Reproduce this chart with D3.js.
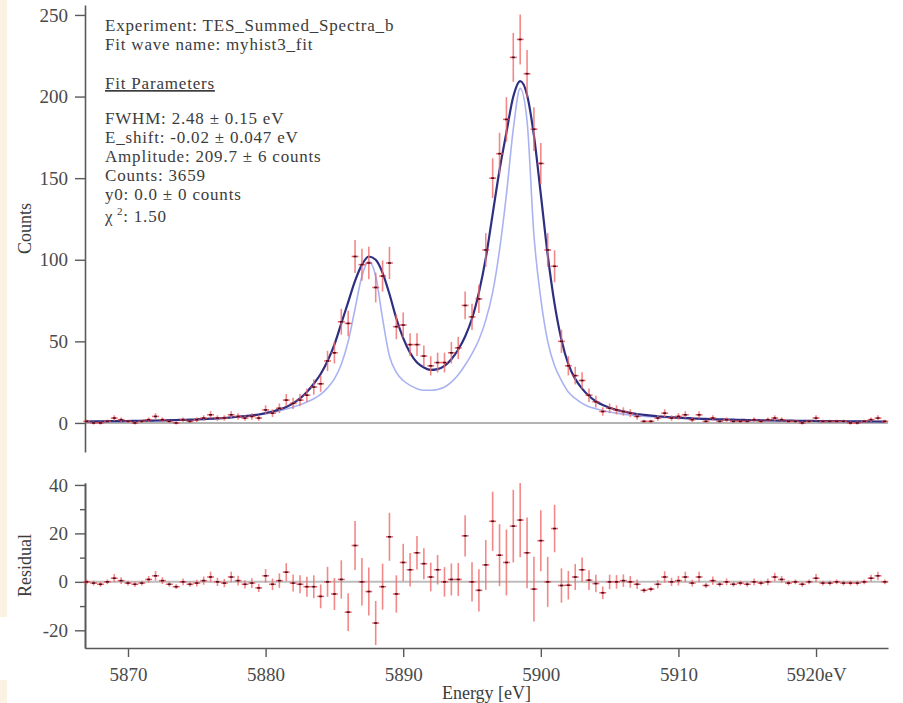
<!DOCTYPE html>
<html>
<head>
<meta charset="utf-8">
<script src="https://cdn.jsdelivr.net/npm/d3@7"></script>
<style>
  body { margin: 0; background: #fff; }
  svg { display: block; }
  text { font-family: "Liberation Serif", "Times New Roman", Times, serif; }
</style>
</head>
<body>
<svg id="chart" width="903" height="703"></svg>
<script>
// Bin centres of the summed spectrum (eV)
const energy = [
  5867, 5867.5, 5868, 5868.5, 5869, 5869.5, 5870, 5870.5, 5871, 5871.5,
  5872, 5872.5, 5873, 5873.5, 5874, 5874.5, 5875, 5875.5, 5876, 5876.5,
  5877, 5877.5, 5878, 5878.5, 5879, 5879.5, 5880, 5880.5, 5881, 5881.5,
  5882, 5882.5, 5883, 5883.5, 5884, 5884.5, 5885, 5885.5, 5886, 5886.5,
  5887, 5887.5, 5888, 5888.5, 5889, 5889.5, 5890, 5890.5, 5891, 5891.5,
  5892, 5892.5, 5893, 5893.5, 5894, 5894.5, 5895, 5895.5, 5896, 5896.5,
  5897, 5897.5, 5898, 5898.5, 5899, 5899.5, 5900, 5900.5, 5901, 5901.5,
  5902, 5902.5, 5903, 5903.5, 5904, 5904.5, 5905, 5905.5, 5906, 5906.5,
  5907, 5907.5, 5908, 5908.5, 5909, 5909.5, 5910, 5910.5, 5911, 5911.5,
  5912, 5912.5, 5913, 5913.5, 5914, 5914.5, 5915, 5915.5, 5916, 5916.5,
  5917, 5917.5, 5918, 5918.5, 5919, 5919.5, 5920, 5920.5, 5921, 5921.5,
  5922, 5922.5, 5923, 5923.5, 5924, 5924.5, 5925
];

// Measured counts per bin
const counts = [
  1, 0, 0, 1, 3, 2, 1, 0, 1, 2,
  4, 2, 1, 0, 2, 1, 2, 3, 5, 3,
  3, 5, 4, 3, 4, 3, 8, 6, 9, 14,
  12, 14, 17, 22, 24, 38, 43, 62, 61, 102,
  97, 98, 83, 90, 98, 59, 60, 48, 48, 41,
  35, 37, 37, 43, 46, 72, 65, 76, 106, 150,
  165, 186, 224, 235, 214, 180, 159, 106, 96, 50,
  35, 29, 26, 17, 13, 7, 9, 8, 7, 6,
  4, 1, 1, 3, 6, 3, 4, 5, 2, 5,
  1, 3, 1, 2, 1, 1, 1, 2, 1, 2,
  3, 2, 1, 1, 0, 1, 3, 1, 1, 1,
  1, 0, 0, 1, 2, 3, 1
];

// Statistical uncertainty per bin (counts)
const countErr = [
  1, 1, 1, 1, 1.7, 1.4, 1, 1, 1, 1.4,
  2, 1.4, 1, 1, 1.4, 1, 1.4, 1.7, 2.2, 1.7,
  1.7, 2.2, 2, 1.7, 2, 1.7, 2.8, 2.4, 3, 3.7,
  3.5, 3.7, 4.1, 4.7, 4.9, 6.2, 6.6, 7.9, 7.8, 10.1,
  9.8, 9.9, 9.1, 9.5, 9.9, 7.7, 7.7, 6.9, 6.9, 6.4,
  5.9, 6.1, 6.1, 6.6, 6.8, 8.5, 8.1, 8.7, 10.3, 12.2,
  12.8, 13.6, 15, 15.3, 14.6, 13.4, 12.6, 10.3, 9.8, 7.1,
  5.9, 5.4, 5.1, 4.1, 3.6, 2.6, 3, 2.8, 2.6, 2.4,
  2, 1, 1, 1.7, 2.4, 1.7, 2, 2.2, 1.4, 2.2,
  1, 1.7, 1, 1.4, 1, 1, 1, 1.4, 1, 1.4,
  1.7, 1.4, 1, 1, 1, 1, 1.7, 1, 1, 1,
  1, 1, 1, 1, 1.4, 1.7, 1
];

// Fitted model (instrument-broadened)
const fitCurve = [
  0.9, 0.95, 1.0, 1.05, 1.1, 1.15, 1.2, 1.3, 1.35, 1.45,
  1.5, 1.6, 1.7, 1.8, 1.9, 2.0, 2.2, 2.4, 2.6, 2.8,
  3.1, 3.4, 3.8, 4.2, 4.6, 5.2, 6.0, 7.0, 8.2, 9.8,
  12, 15, 19, 24, 30, 38, 48, 61, 74, 87,
  97, 102, 100, 92, 79, 64, 52, 43, 37, 34,
  32.5, 33, 35, 39, 45, 53, 64, 80, 101, 128,
  155, 178, 200, 209.5, 201, 176, 140, 103, 73, 51,
  36, 27, 21, 16.5, 13.3, 11, 9.3, 8.0, 7.0, 6.2,
  5.5, 5.0, 4.5, 4.1, 3.8, 3.5, 3.2, 3.0, 2.8, 2.6,
  2.5, 2.3, 2.2, 2.1, 2.0, 1.9, 1.8, 1.7, 1.65, 1.6,
  1.5, 1.45, 1.4, 1.35, 1.3, 1.25, 1.2, 1.15, 1.1, 1.1,
  1.05, 1.0, 1.0, 0.95, 0.9, 0.9, 0.85
];

// Intrinsic line shape (no detector broadening)
const lineShape = [
  0.7, 0.75, 0.8, 0.85, 0.9, 0.95, 1.0, 1.1, 1.15, 1.2,
  1.3, 1.4, 1.5, 1.6, 1.7, 1.85, 2.0, 2.2, 2.4, 2.7,
  3.0, 3.3, 3.7, 4.0, 4.4, 5.0, 5.7, 6.5, 7.4, 8.5,
  9.8, 11.2, 12.8, 14.8, 17.5, 21.5, 27, 36, 50, 70,
  90, 99, 90, 64, 41, 31, 26, 23, 21, 20,
  20, 20.5, 22, 25, 29.5, 35.5, 42.5, 51, 63, 80,
  106, 140, 180, 205, 185, 115, 76, 50, 35, 26,
  19, 15, 12, 10, 8.7, 7.6, 6.7, 6.0, 5.4, 4.9,
  4.5, 4.1, 3.8, 3.5, 3.3, 3.1, 2.9, 2.75, 2.6, 2.45,
  2.35, 2.2, 2.1, 2.0, 1.9, 1.8, 1.7, 1.6, 1.55, 1.5,
  1.4, 1.35, 1.3, 1.25, 1.2, 1.15, 1.1, 1.05, 1.0, 1.0,
  0.95, 0.9, 0.9, 0.85, 0.85, 0.8, 0.8
];

// Data minus fit
const residual = [
  0, -0.5, -1, 0, 1.5, 0.5, -0.5, -1, -0.5, 1,
  2.5, 0.5, -1, -2, 0, -1, -0.5, 0.5, 2, 0,
  -0.5, 2, 0.5, -1, -0.5, -2.5, 2.5, -1, 0.5, 4,
  -0.5, -1, -2, -2, -6, 0, -5, 1, -12.5, 15,
  0, -4, -17, -2, 18.6, -5, 8, 5, 12, 7.5,
  2, 5, 0, 1, 1, 19, 0, -3.5, 7, 25,
  11, 8, 23, 25.5, 12, -3, 17, 0, 22, -1.5,
  -1.4, 2, 5, 0.7, -0.7, -4.5, 0, 0, 0.5, 0,
  -1, -3.5, -3, -1, 2, 0, 0.5, 2, -0.5, 2,
  -1.5, 0.5, -1, 0, -1, -0.5, -1, 0, -0.5, 0,
  2, 1, -0.5, 0, -1, 0, 1.5, -0.5, -0.5, 0,
  -0.5, -0.5, -0.5, 0, 1.5, 2.5, 0
];

const countTicks = [0, 50, 100, 150, 200, 250];
const residualTicks = [-20, 0, 20, 40];
const residualMinorTicks = [-10, 10, 30];
const energyTicks = [5870, 5880, 5890, 5900, 5910, 5920];
const energyTickLabels = ["5870", "5880", "5890", "5900", "5910", "5920eV"];
const binHalfWidth = 0.25;

const fitInfo = [
  "Experiment: TES_Summed_Spectra_b",
  "Fit wave name: myhist3_fit",
  "Fit Parameters",
  "FWHM: 2.48 ± 0.15 eV",
  "E_shift: -0.02 ± 0.047 eV",
  "Amplitude: 209.7 ± 6 counts",
  "Counts: 3659",
  "y0: 0.0 ± 0 counts"
];
const chiSquared = "1.50";

const points = energy.map((e, i) => ({ e, c: counts[i], err: countErr[i], fit: fitCurve[i], shape: lineShape[i], res: residual[i] }));

const svg = d3.select("#chart");
const axisColor = "#5a5a5a";
const textColor = "#3c3c3c";

// Pale strip down the left margin
svg.append("rect").attr("x", 0).attr("y", 0).attr("width", 7).attr("height", 617).attr("fill", "#fbf2e4");
svg.append("rect").attr("x", 0).attr("y", 680).attr("width", 7).attr("height", 23).attr("fill", "#fbf2e4");

const x = d3.scaleLinear().domain([5866.875, 5925.23]).range([85, 888]);
const yTop = d3.scaleLinear().domain([-17.8, 256.1]).range([452, 5]);
const yRes = d3.scaleLinear().domain([-27.3, 40.8]).range([648, 483]);

function styleAxis(g, size) {
  g.selectAll("path.domain").attr("stroke", axisColor).attr("stroke-width", 1.6);
  g.selectAll(".tick line").attr("stroke", axisColor).attr("stroke-width", 1.4);
  g.selectAll(".tick text")
    .attr("fill", "#4a4a4a")
    .style("font-size", size + "px")
    .style("font-family", "'Liberation Serif', 'Times New Roman', serif");
}

// ---------- upper panel: spectrum and fit ----------
svg.append("line")
  .attr("x1", x.range()[0]).attr("x2", x.range()[1])
  .attr("y1", yTop(0)).attr("y2", yTop(0))
  .attr("stroke", "#9a9a9a").attr("stroke-width", 1.5);

const gTopAxis = svg.append("g").attr("transform", `translate(${x.range()[0]},0)`)
  .call(d3.axisLeft(yTop).tickValues(countTicks).tickSize(10).tickSizeOuter(0).tickPadding(7).tickFormat(d => String(d)));
styleAxis(gTopAxis, 19);

svg.append("path").datum(points)
  .attr("fill", "none").attr("stroke", "#aab3f2").attr("stroke-width", 1.6)
  .attr("d", d3.line().x(d => x(d.e)).y(d => yTop(d.shape)).curve(d3.curveMonotoneX));

svg.append("path").datum(points)
  .attr("fill", "none").attr("stroke", "#2d2f80").attr("stroke-width", 2.2)
  .attr("d", d3.line().x(d => x(d.e)).y(d => yTop(d.fit)).curve(d3.curveMonotoneX));

function drawPoints(layer, yScale, valueOf) {
  const g = layer.append("g");
  g.selectAll("line.ey").data(points).join("line")
    .attr("x1", d => x(d.e)).attr("x2", d => x(d.e))
    .attr("y1", d => yScale(valueOf(d) - d.err)).attr("y2", d => yScale(valueOf(d) + d.err))
    .attr("stroke", "#f06a6a").attr("stroke-opacity", 0.8).attr("stroke-width", 1.6);
  g.selectAll("line.ex").data(points).join("line")
    .attr("x1", d => x(d.e - binHalfWidth)).attr("x2", d => x(d.e + binHalfWidth))
    .attr("y1", d => yScale(valueOf(d))).attr("y2", d => yScale(valueOf(d)))
    .attr("stroke", "#e8474f").attr("stroke-opacity", 0.85).attr("stroke-width", 1.5);
  g.selectAll("line.mk").data(points).join("line")
    .attr("x1", d => x(d.e) - 1.5).attr("x2", d => x(d.e) + 1.5)
    .attr("y1", d => yScale(valueOf(d))).attr("y2", d => yScale(valueOf(d)))
    .attr("stroke", "#4a0f22").attr("stroke-width", 1.6);
}
drawPoints(svg, yTop, d => d.c);

svg.append("text")
  .attr("transform", `translate(31,${(5 + 452) / 2}) rotate(-90)`)
  .attr("text-anchor", "middle")
  .attr("fill", textColor).style("font-size", "18px")
  .text("Counts");

// Fit summary box
const info = svg.append("g").attr("fill", textColor)
  .style("font-size", "17px").style("letter-spacing", "0.8px");
const infoBaselines = [31, 50, 89, 124, 143, 162, 181, 200];
fitInfo.forEach((t, i) => {
  const tx = info.append("text").attr("x", 105).attr("y", infoBaselines[i]).text(t);
  if (t === "Fit Parameters") tx.style("text-decoration", "underline");
});
const chi = info.append("text").attr("x", 105).attr("y", 222);
chi.append("tspan").text("χ");
chi.append("tspan").attr("dy", -7).style("font-size", "11px").text(" 2");
chi.append("tspan").attr("dy", 7).text(": " + chiSquared);

// ---------- lower panel: residuals ----------
svg.append("line")
  .attr("x1", x.range()[0]).attr("x2", x.range()[1])
  .attr("y1", yRes(0)).attr("y2", yRes(0))
  .attr("stroke", "#bdbdbd").attr("stroke-width", 2);

const gResMinor = svg.append("g").attr("transform", `translate(${x.range()[0]},0)`)
  .call(d3.axisLeft(yRes).tickValues(residualMinorTicks).tickSize(5).tickSizeOuter(0).tickFormat(""));
styleAxis(gResMinor, 19);

const gResAxis = svg.append("g").attr("transform", `translate(${x.range()[0]},0)`)
  .call(d3.axisLeft(yRes).tickValues(residualTicks).tickSize(10).tickSizeOuter(0).tickPadding(7).tickFormat(d => String(d)));
styleAxis(gResAxis, 19);

drawPoints(svg, yRes, d => d.res);

const gX = svg.append("g").attr("transform", `translate(0,${yRes.range()[0]})`)
  .call(d3.axisBottom(x).tickValues(energyTicks).tickFormat((d, i) => energyTickLabels[i])
    .tickSize(9).tickSizeOuter(0).tickPadding(11));
styleAxis(gX, 19);

svg.append("text")
  .attr("transform", `translate(31,${(483 + 648) / 2}) rotate(-90)`)
  .attr("text-anchor", "middle")
  .attr("fill", textColor).style("font-size", "18px")
  .text("Residual");

svg.append("text")
  .attr("x", (x.range()[0] + x.range()[1]) / 2).attr("y", 699)
  .attr("text-anchor", "middle")
  .attr("fill", textColor).style("font-size", "18px")
  .text("Energy [eV]");
</script>
</body>
</html>
